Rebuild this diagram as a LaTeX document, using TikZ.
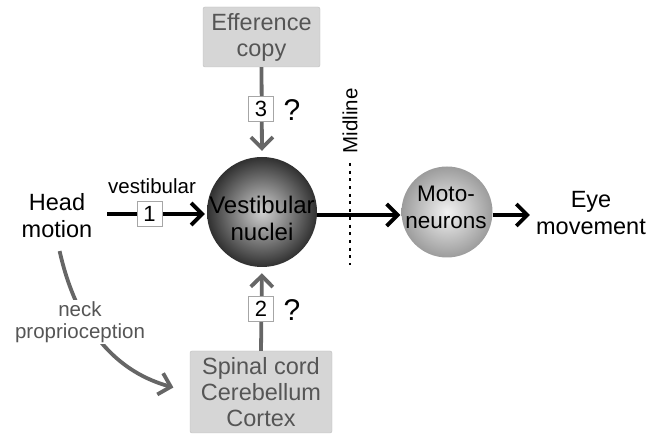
\documentclass[tikz,border=0pt]{standalone}
\usepackage{fontspec}
\setmainfont{Liberation Sans}
\usetikzlibrary{arrows.meta,calc}
\definecolor{boxfill}{HTML}{D6D6D6}
\definecolor{boxline}{HTML}{BDBDBD}
\definecolor{boxtext}{HTML}{555555}
\definecolor{garrow}{HTML}{666666}
\definecolor{vnin}{HTML}{D0D0D0}
\definecolor{vnout}{HTML}{303030}
\definecolor{mnin}{HTML}{F2F2F2}
\definecolor{mnout}{HTML}{9C9C9C}
\newcommand{\fs}[2]{\fontsize{#1}{#2}\selectfont}
\tikzset{
  graybox/.style={draw=boxline, fill=boxfill, rounded corners=2pt, text=boxtext, align=center, inner sep=0pt, font=\fs{23.5}{26}},
  numbox/.style={draw=gray!70, fill=white, line width=0.8pt, minimum width=25pt, minimum height=25pt, inner sep=0pt, font=\fs{22}{24}},
  bigtext/.style={align=center, inner sep=1pt, font=\fs{23.5}{27}},
  blackarrow/.style={line width=3.8pt, -{Straight Barb[length=11pt,width=22pt,line width=3.8pt]}},
  grayarrow/.style={line width=3.8pt, draw=garrow, -{Straight Barb[length=11pt,width=22pt,line width=3.8pt]}},
  qmark/.style={inner sep=0pt, font=\fs{30}{30}}
}
\begin{document}
\begin{tikzpicture}[x=1pt,y=-1pt]
\useasboundingbox (0,0) rectangle (659,435);
% boxes
\node[graybox, minimum width=117pt, minimum height=60pt] (eff) at (261.5,37) {Efference\\copy};
\node[graybox, minimum width=142pt, minimum height=82pt] (spin) at (261,392) {Spinal cord\\Cerebellum\\Cortex};
% spheres
\node[circle, minimum size=110pt, inner sep=0pt, inner color=vnin, outer color=vnout] (vn) at (262,212) {};
\node[circle, minimum size=91pt, inner sep=0pt, inner color=mnin, outer color=mnout] (mn) at (447,212) {};
% midline
\coordinate (mtop) at (350,163);
\coordinate (mbot) at (350,265);
\draw[line width=1.5pt, dash pattern=on 3pt off 4.7pt] (mtop) -- (mbot);
% texts
\node[bigtext] (hm) at (57,216) {Head\\motion};
\node[bigtext] (eye) at (591,213) {Eye\\movement};
\node[inner sep=0pt, font=\fs{20.5}{24}] (vest) at (152,186) {vestibular};
\node[inner sep=0pt, rotate=90, font=\fs{20.5}{24}] (mid) at (350,121) {Midline};
% arrows
\coordinate (ay) at (0,215);
\coordinate (hstart) at (107,214);
\draw[blackarrow, shorten >=2pt] (hstart) -- (vn.west |- hstart);
\node[numbox] (n1) at (149.5,214) {1};
\draw[blackarrow, shorten >=1pt] (vn.east |- ay) -- (mn.west |- ay);
\draw[blackarrow, shorten >=5pt] (mn.east |- ay) -- (eye.west |- ay);
\draw[grayarrow, shorten >=6pt] (eff.south) -- (vn.north);
\node[numbox] (n3) at (261,109) {3};
\node[qmark] (q3) at (292,110) {?};
\draw[grayarrow, shorten >=6pt] (spin.north) -- (vn.south);
\node[numbox] (n2) at (261,309) {2};
\node[qmark] (q2) at (292,310) {?};
% sphere texts on top
\node[bigtext, font=\fs{24}{27}] (vnt) at (262,218) {Vestibular\\nuclei};
\node[bigtext, font=\fs{22.5}{27}] (mnt) at (446,207) {Moto-\\neurons};
% neck proprioception
\draw[grayarrow, shorten <=12pt, shorten >=17pt] (hm.south) .. controls (75,320) and (110,370) .. (spin.west);
\node[fill=white, align=center, inner sep=1pt, text=boxtext, font=\fs{20.5}{22}] (neck) at (80,322) {neck\\proprioception};
\end{tikzpicture}
\end{document}
